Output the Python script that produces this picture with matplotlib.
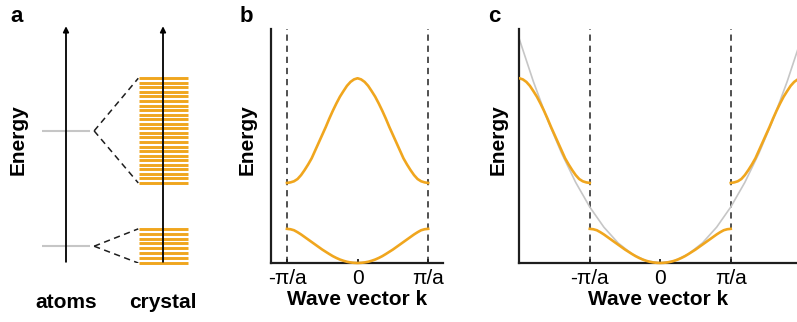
import numpy as np
import matplotlib
matplotlib.use("Agg")
import matplotlib.pyplot as plt

plt.rcParams['font.family'] = ['Liberation Sans', 'DejaVu Sans']
plt.rcParams['lines.scale_dashes'] = False

# ---------------- data ----------------
# reduced wave vector (units of pi/a)
k_reduced = [-1.0, -0.95, -0.9, -0.85, -0.8, -0.75, -0.7, -0.65, -0.6, -0.55,
             -0.5, -0.45, -0.4, -0.35, -0.3, -0.25, -0.2, -0.15, -0.1, -0.05,
             0.0,
             0.05, 0.1, 0.15, 0.2, 0.25, 0.3, 0.35, 0.4, 0.45, 0.5,
             0.55, 0.6, 0.65, 0.7, 0.75, 0.8, 0.85, 0.9, 0.95, 1.0]
upper_band = [1.43, 1.44, 1.46, 1.50, 1.57, 1.66, 1.76, 1.87, 2.01, 2.15,
              2.29, 2.43, 2.58, 2.72, 2.85, 2.97, 3.07, 3.165, 3.235, 3.28,
              3.30,
              3.28, 3.235, 3.165, 3.07, 2.97, 2.85, 2.72, 2.58, 2.43, 2.29,
              2.15, 2.01, 1.87, 1.76, 1.66, 1.57, 1.50, 1.46, 1.44, 1.43]
lower_band = [0.61, 0.603, 0.585, 0.55, 0.51, 0.465, 0.42, 0.375, 0.33, 0.285,
              0.24, 0.20, 0.16, 0.122, 0.09, 0.062, 0.04, 0.022, 0.01, 0.003,
              0.0,
              0.003, 0.01, 0.022, 0.04, 0.062, 0.09, 0.122, 0.16, 0.20, 0.24,
              0.285, 0.33, 0.375, 0.42, 0.465, 0.51, 0.55, 0.585, 0.603, 0.61]
# free-electron parabola (extended zone)
k_free = [-2.0, -1.8, -1.6, -1.4, -1.2, -1.0, -0.8, -0.6, -0.4, -0.2, 0.0,
          0.2, 0.4, 0.6, 0.8, 1.0, 1.2, 1.4, 1.6, 1.8, 2.0]
E_free = [4.0, 3.24, 2.56, 1.96, 1.44, 1.0, 0.64, 0.36, 0.16, 0.04, 0.0,
          0.04, 0.16, 0.36, 0.64, 1.0, 1.44, 1.96, 2.56, 3.24, 4.0]
# panel a: atomic levels and number of crystal levels per band
atom_levels = [0.30, 2.36]
n_levels = [8, 24]
tick_pos = [-1, 0, 1]
tick_labels = ['-π/a', '0', 'π/a']

# ---------------- style ----------------
ORANGE = '#F0A61E'
GRAY = '#C6C6C6'
DARK = '#1E1E1E'
FS = 15

W, H = 797, 322
fig = plt.figure(figsize=(W / 100, H / 100), dpi=100)


def px_axes(left, right, top, bottom):
    return fig.add_axes([left / W, 1 - bottom / H, (right - left) / W, (bottom - top) / H])


YMAX = 4.18

# ---------------- panel a ----------------
axa = px_axes(0, 230, 29, 263)
axa.set_xlim(-66 / 97, 164 / 97)
axa.set_ylim(0, YMAX)
axa.axis('off')

bands = [lower_band, upper_band]
for xcol in (0.0, 1.0):
    axa.annotate('', xy=(xcol, 4.23), xytext=(xcol, 0.02),
                 arrowprops=dict(arrowstyle='-|>', color='black', lw=1.3,
                                 mutation_scale=8, shrinkA=0, shrinkB=0),
                 annotation_clip=False, zorder=5)
for lvl, band, n in zip(atom_levels, bands, n_levels):
    axa.plot([-0.247, 0.247], [lvl, lvl], color=GRAY, lw=1.5, zorder=2,
             solid_capstyle='butt')
    emin, emax = min(band), max(band)
    for e in np.linspace(emin, emax, n):
        axa.plot([0.753, 1.258], [e, e], color=ORANGE, lw=2.1, zorder=3,
                 solid_capstyle='butt', clip_on=False, snap=True)
    for e in (emin, emax):
        axa.plot([0.29, 0.745], [lvl, e], color=DARK, lw=1.1,
                 dashes=(4.5, 3.2), zorder=2)

axa.text(-0.495, 2.2, 'Energy', rotation=90, ha='center', va='center',
         fontsize=FS, fontweight='bold')
axa.text(0.0, -0.71, 'atoms', ha='center', va='center', fontsize=FS, fontweight='bold')
axa.text(1.0, -0.71, 'crystal', ha='center', va='center', fontsize=FS, fontweight='bold')


def style_axes(ax, ylabel_x):
    for s in ('top', 'right'):
        ax.spines[s].set_visible(False)
    for s in ('left', 'bottom'):
        ax.spines[s].set_color(DARK)
        ax.spines[s].set_linewidth(1.6)
    ax.set_yticks([])
    ax.set_xticks(tick_pos)
    ax.set_xticklabels(tick_labels, fontsize=FS)
    ax.tick_params(axis='x', direction='in', length=3, width=1.3, color=DARK, pad=4)
    ax.set_ylim(0, YMAX)
    ax.set_xlabel('Wave vector k', fontsize=FS, fontweight='bold', labelpad=2)
    ax.set_ylabel('Energy', fontsize=FS, fontweight='bold')
    ax.yaxis.set_label_coords(ylabel_x, 0.526)
    for x in (-1, 1):
        ax.axvline(x, color='#333333', lw=1.2, dashes=(4.5, 3.5), zorder=1)


# ---------------- panel b ----------------
axb = px_axes(270.7, 443, 29, 263)
axb.set_xlim(-1.23, 1.21)
style_axes(axb, -13.7 / 172.3)
axb.plot(k_reduced, upper_band, color=ORANGE, lw=1.9, zorder=3, clip_on=False)
axb.plot(k_reduced, lower_band, color=ORANGE, lw=1.9, zorder=3, clip_on=False)

# ---------------- panel c ----------------
axc = px_axes(519.3, 797, 29, 263)
axc.set_xlim(-2.0, 1.94)
style_axes(axc, -12.1 / 277.7)
axc.plot(k_free, E_free, color=GRAY, lw=1.2, zorder=2)
kr = np.array(k_reduced)
ub = np.array(upper_band)
mid = len(k_reduced) // 2
axc.plot(kr, lower_band, color=ORANGE, lw=1.9, zorder=3, clip_on=False)
axc.plot(kr[mid:] - 2, ub[mid:], color=ORANGE, lw=1.9, zorder=3)
axc.plot(kr[:mid + 1] + 2, ub[:mid + 1], color=ORANGE, lw=1.9, zorder=3)

# ---------------- panel letters ----------------
for x, letter in ((10, 'a'), (240, 'b'), (488, 'c')):
    fig.text(x / W, 1 - 22 / H, letter, fontsize=16, fontweight='bold',
             ha='left', va='baseline')

fig.savefig('out.png', dpi=100)
